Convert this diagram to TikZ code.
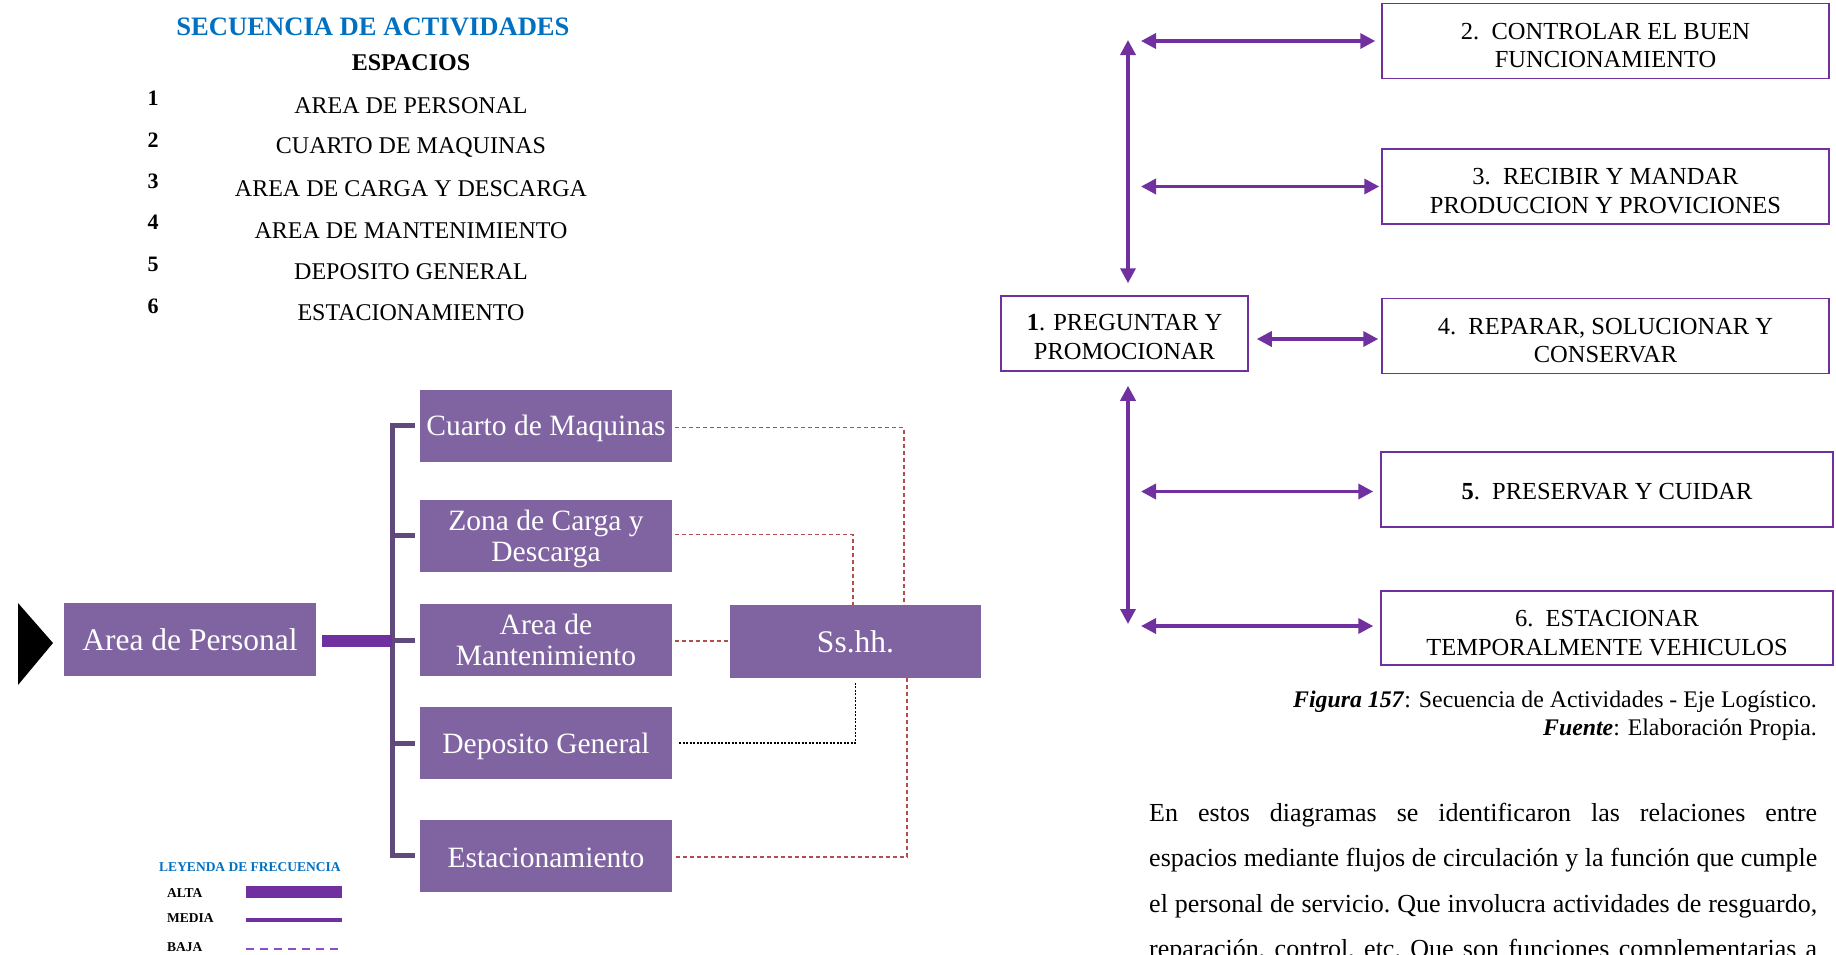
\documentclass[tikz,border=0pt]{standalone}
\usepackage{fontspec}
\setmainfont{Liberation Serif}
\usetikzlibrary{arrows.meta}
\definecolor{cajamorada}{HTML}{8064A2}
\definecolor{moradofuerte}{HTML}{7030A0}
\definecolor{corchete}{HTML}{604A7B}
\definecolor{rojizo}{HTML}{B24D4A}
\definecolor{azultitulo}{HTML}{0070C0}
\definecolor{morabaja}{HTML}{8A4FC4}
\newcommand\tamano[2]{\fontsize{#1pt}{#2pt}\selectfont}
% invisible strut that lowers the text inside a box
\newcommand\bajar[1]{\rule{0pt}{#1pt}}

\begin{document}
\begin{tikzpicture}[x=1pt,y=-1pt,
  every node/.style={inner sep=0pt},
  titulo/.style={font=\tamano{26.6}{30}\bfseries, text=azultitulo},
  numero/.style={font=\tamano{22}{26}\bfseries},
  espacio/.style={font=\tamano{24}{28}},
  caja/.style={fill=cajamorada, text=white, minimum width=252pt, minimum height=72pt,
               align=center, text depth=0pt, font=\tamano{29.5}{31}},
  cajagrande/.style={caja, font=\tamano{31.5}{33}},
  actividad/.style={draw=moradofuerte, line width=1.5pt, fill=white, minimum height=75pt,
                    align=center, font=\tamano{24.5}{28.5}},
  alta/.style={draw=moradofuerte, line width=12pt},
  media/.style={draw=moradofuerte, line width=4.5pt},
  baja/.style={draw=morabaja, line width=2.5pt, dash pattern=on 8pt off 6pt},
  corchetes/.style={draw=corchete, line width=5pt},
  enlace/.style={draw=rojizo, line width=1.6pt, dash pattern=on 4pt off 3pt},
  enlacenegro/.style={draw=black, line width=1.2pt, dash pattern=on 2pt off 1.5pt},
  flujo/.style={draw=moradofuerte, line width=3.5pt,
                {Triangle[length=15pt,width=15pt]}-{Triangle[length=15pt,width=15pt]}},
  leyenda/.style={font=\tamano{13.5}{16}\bfseries},
]
\useasboundingbox (0,0) rectangle (1836,954);
\clip (0,0) rectangle (1836,954);

% ---- list of spaces ----
\node[titulo] (titulo) at (373,27) {SECUENCIA DE ACTIVIDADES};
\node[font=\tamano{24}{28}\bfseries] (espacios) at (411,63) {ESPACIOS};
\node[numero] (n1) at (153,98.5) {1};
\node[numero] (n2) at (153,140) {2};
\node[numero] (n3) at (153,181) {3};
\node[numero] (n4) at (153,222.5) {4};
\node[numero] (n5) at (153,264) {5};
\node[numero] (n6) at (153,306) {6};
\node[espacio] (e1) at (411,106) {AREA DE PERSONAL};
\node[espacio] (e2) at (411,147.5) {CUARTO DE MAQUINAS};
\node[espacio] (e3) at (411,189) {AREA DE CARGA Y DESCARGA};
\node[espacio] (e4) at (411,230.5) {AREA DE MANTENIMIENTO};
\node[espacio] (e5) at (411,272) {DEPOSITO GENERAL};
\node[espacio] (e6) at (411,313) {ESTACIONAMIENTO};

% ---- relation diagram ----
\fill (18,603) -- (53,643) -- (18,685) -- cycle;
\node[cajagrande, minimum height=73pt] (personal) at (190,639.5) {Area de Personal};
\node[caja] (cuarto) at (546,425.5) {Cuarto de Maquinas};
\node[caja] (zona) at (546,535.5) {Zona de Carga y\\Descarga};
\node[caja] (mant) at (546,640) {Area de\\Mantenimiento};
\node[caja] (deposito) at (546,743) {Deposito General};
\node[caja] (estac) at (546,855.5) {\bajar{23}Estacionamiento};
\node[cajagrande, minimum width=251pt, minimum height=73pt] (sshh) at (855.5,641.5) {Ss.hh.};

\coordinate (eje) at ([xshift=-27.5pt]cuarto.west);
\draw[corchetes] ([xshift=-5pt]cuarto.west) -- (cuarto.west -| eje) |- ([xshift=-5pt]estac.west);
\draw[corchetes] ([xshift=-5pt]zona.west) -- ++(-25,0);
\draw[corchetes] ([xshift=-5pt]mant.west) -- ++(-25,0);
\draw[corchetes] ([xshift=-5pt]deposito.west) -- ++(-25,0);
\draw[alta] ([xshift=6pt,yshift=-1.5pt]personal.east) -- ([yshift=-1.5pt]personal.east -| eje);

\draw[enlace] ([xshift=3pt,yshift=-2pt]cuarto.east) -| ([xshift=48.5pt]sshh.north);
\draw[enlace] ([xshift=3pt,yshift=1pt]zona.east) -| ([xshift=-2.5pt]sshh.north);
\draw[enlace] ([xshift=3pt,yshift=-1pt]mant.east) -- ([yshift=-1pt]mant.east -| sshh.west);
\draw[enlacenegro] ([xshift=7pt]deposito.east) -| ([yshift=-5pt]sshh.south);
\draw[enlace] ([xshift=51.5pt]sshh.south) |- ([xshift=4pt,yshift=-1.5pt]estac.east);

% ---- legend ----
\node[leyenda, text=azultitulo] (leyenda) at (250,867) {LEYENDA DE FRECUENCIA};
\node[leyenda, anchor=west] (lalta) at (167,893) {ALTA};
\node[leyenda, anchor=west] (lmedia) at (167,918.5) {MEDIA};
\node[leyenda, anchor=west] (lbaja) at (167,947) {BAJA};
\draw[alta] (lalta.west) ++(79,-1) -- ++(96,0);
\draw[media] (lmedia.west) ++(79,1.5) -- ++(96,0);
\draw[baja] (lbaja.west) ++(79,2) -- ++(96,0);

% ---- activity sequence ----
\node[actividad, minimum width=447pt] (b2) at (1605.5,41) {\bajar{25.6}2.~~CONTROLAR EL BUEN\\FUNCIONAMIENTO};
\node[actividad, minimum width=447pt] (b3) at (1605.5,186.5) {\bajar{25.6}3.~~RECIBIR Y MANDAR\\PRODUCCION Y PROVICIONES};
\node[actividad, minimum width=247pt] (b1) at (1124.5,333.5) {\bajar{23}\textbf{1}. PREGUNTAR Y\\PROMOCIONAR};
\node[actividad, minimum width=447pt] (b4) at (1605.5,336) {\bajar{25}4.~~REPARAR, SOLUCIONAR Y\\CONSERVAR};
\node[actividad, minimum width=452pt] (b5) at (1607,489.5) {\bajar{21.2}\textbf{5}.~~PRESERVAR Y CUIDAR};
\node[actividad, minimum width=452pt, minimum height=74pt] (b6) at (1607,628) {\bajar{26}6.~~ESTACIONAR\\TEMPORALMENTE VEHICULOS};

\coordinate (vtop) at (1128,40);
\coordinate (vbot) at (1128,624);
\draw[flujo] (vtop) -- ([xshift=3.5pt,yshift=12pt]b1.north);
\draw[flujo] ([xshift=3.5pt,yshift=-14pt]b1.south) -- (vbot);
\draw[flujo] ([xshift=13pt]vtop |- b2.west) -- ([xshift=-6pt]b2.west);
\draw[flujo] ([xshift=13pt]vtop |- b3.west) -- ([xshift=-2pt]b3.west);
\draw[flujo] ([xshift=8pt,yshift=-3pt]b1.east |- b4.west) -- ([xshift=-3pt,yshift=-3pt]b4.west);
\draw[flujo] ([xshift=13pt,yshift=-2pt]vtop |- b5.west) -- ([xshift=-7pt,yshift=-2pt]b5.west);
\draw[flujo] ([xshift=13pt,yshift=2pt]vtop |- b6.west) -- ([xshift=-7pt,yshift=2pt]b6.west);

% ---- caption and text ----
\node[anchor=base east, font=\tamano{23.8}{28}] (figura) at (1817,707)
  {\textbf{\textit{Figura 157}}: Secuencia de Actividades - Eje Logístico.};
\node[anchor=base east, font=\tamano{23.8}{28}] (fuente) at (1817,735)
  {\textbf{\textit{Fuente}}: Elaboración Propia.};
\node[anchor=north west, text width=668pt, align=justify, font=\tamano{26}{45.5}] (parrafo) at (1149,802.5)
  {\frenchspacing\noindent En estos diagramas se identificaron las relaciones entre\linebreak
   espacios mediante flujos de circulación y la función que cumple\linebreak
   el personal de servicio. Que involucra actividades de resguardo,\linebreak
   reparación, control, etc. Que son funciones complementarias a\linebreak};
\end{tikzpicture}
\end{document}
